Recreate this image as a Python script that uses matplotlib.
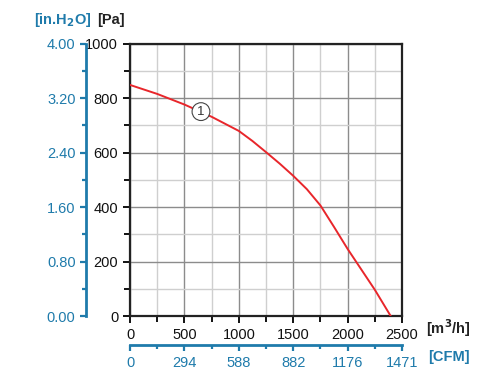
import matplotlib
matplotlib.use("Agg")
import matplotlib.pyplot as plt
from matplotlib.ticker import MultipleLocator

plt.rcParams['font.family'] = ['Liberation Sans', 'DejaVu Sans']

# curve
flow = [0, 250, 500, 750, 1000, 1125, 1250, 1375, 1500, 1625, 1750, 1875, 2000, 2250, 2395]
pressure = [849, 816, 777, 732, 680, 643, 602, 560, 515, 466, 406, 327, 246, 96, 0]

pa_ticks = [0, 200, 400, 600, 800, 1000]
inh2o_ticks = [0.0, 0.8, 1.6, 2.4, 3.2, 4.0]
flow_ticks = [0, 500, 1000, 1500, 2000, 2500]
cfm_labels = ['0', '294', '588', '882', '1176', '1471']

blue = '#1f7bab'

fig = plt.figure(figsize=(5.02, 3.78), dpi=100)
ax = fig.add_axes([0.259, 0.164, 0.542, 0.720])

ax.set_xlim(0, 2500)
ax.set_ylim(0, 1000)
ax.set_xticks(flow_ticks)
ax.set_yticks(pa_ticks)
ax.xaxis.set_minor_locator(MultipleLocator(250))
ax.yaxis.set_minor_locator(MultipleLocator(100))
ax.grid(which='major', color='#8c8c8c', lw=1.0)
ax.grid(which='minor', color='#cfcfcf', lw=1.0)
ax.set_axisbelow(True)
for s in ax.spines.values():
    s.set_linewidth(1.6)
    s.set_color('#222222')
ax.tick_params(which='both', direction='out', width=1.4, labelsize=10.5, colors='#111111')
ax.tick_params(which='major', length=5)
ax.tick_params(which='minor', length=4)

ax.plot(flow, pressure, color='#e8262b', lw=1.4, zorder=3)
ax.text(652, 751, '1', fontsize=9.5, ha='center', va='center', zorder=4,
        color='#333333',
        bbox=dict(boxstyle='circle,pad=0.22', fc='white', ec='#444444', lw=0.8))

# blue inch of water axis on the left
ay = ax.twinx()
ay.set_ylim(0, 4.0)
ay.yaxis.set_ticks_position('left')
ay.yaxis.set_label_position('left')
ay.spines['left'].set_position(('axes', -0.162))
for k in ['right', 'top', 'bottom']:
    ay.spines[k].set_visible(False)
ay.spines['left'].set_color(blue)
ay.spines['left'].set_linewidth(2.0)
ay.set_yticks(inh2o_ticks)
ay.set_yticklabels(['%.2f' % v for v in inh2o_ticks])
ay.yaxis.set_minor_locator(MultipleLocator(0.4))
ay.tick_params(which='both', direction='out', color=blue, labelcolor=blue,
               width=1.6, labelsize=10.5)
ay.tick_params(which='major', length=4)
ay.tick_params(which='minor', length=3)

# blue CFM axis below
ax2 = ax.twiny()
ax2.set_xlim(0, 2500)
ax2.xaxis.set_ticks_position('bottom')
ax2.spines['bottom'].set_position(('axes', -0.107))
for k in ['right', 'top', 'left']:
    ax2.spines[k].set_visible(False)
ax2.spines['bottom'].set_color(blue)
ax2.spines['bottom'].set_linewidth(2.0)
ax2.set_xticks(flow_ticks)
ax2.set_xticklabels(cfm_labels)
ax2.xaxis.set_minor_locator(MultipleLocator(250))
ax2.tick_params(which='both', direction='out', color=blue, labelcolor=blue,
                width=1.6, labelsize=10.5)
ax2.tick_params(which='major', length=4)
ax2.tick_params(which='minor', length=3)

fig.text(0.068, 0.948, '[in.H$_\\mathbf{2}$O]', color=blue, fontsize=10.5,
         fontweight='bold', ha='left', va='center')
fig.text(0.193, 0.948, '[Pa]', color='#222222', fontsize=10.5,
         fontweight='bold', ha='left', va='center')
fig.text(0.848, 0.132, '[m$^\\mathbf{3}$/h]', color='#222222', fontsize=10.5,
         fontweight='bold', ha='left', va='center')
fig.text(0.852, 0.055, '[CFM]', color=blue, fontsize=10.5,
         fontweight='bold', ha='left', va='center')

fig.savefig('out.png', dpi=100)
